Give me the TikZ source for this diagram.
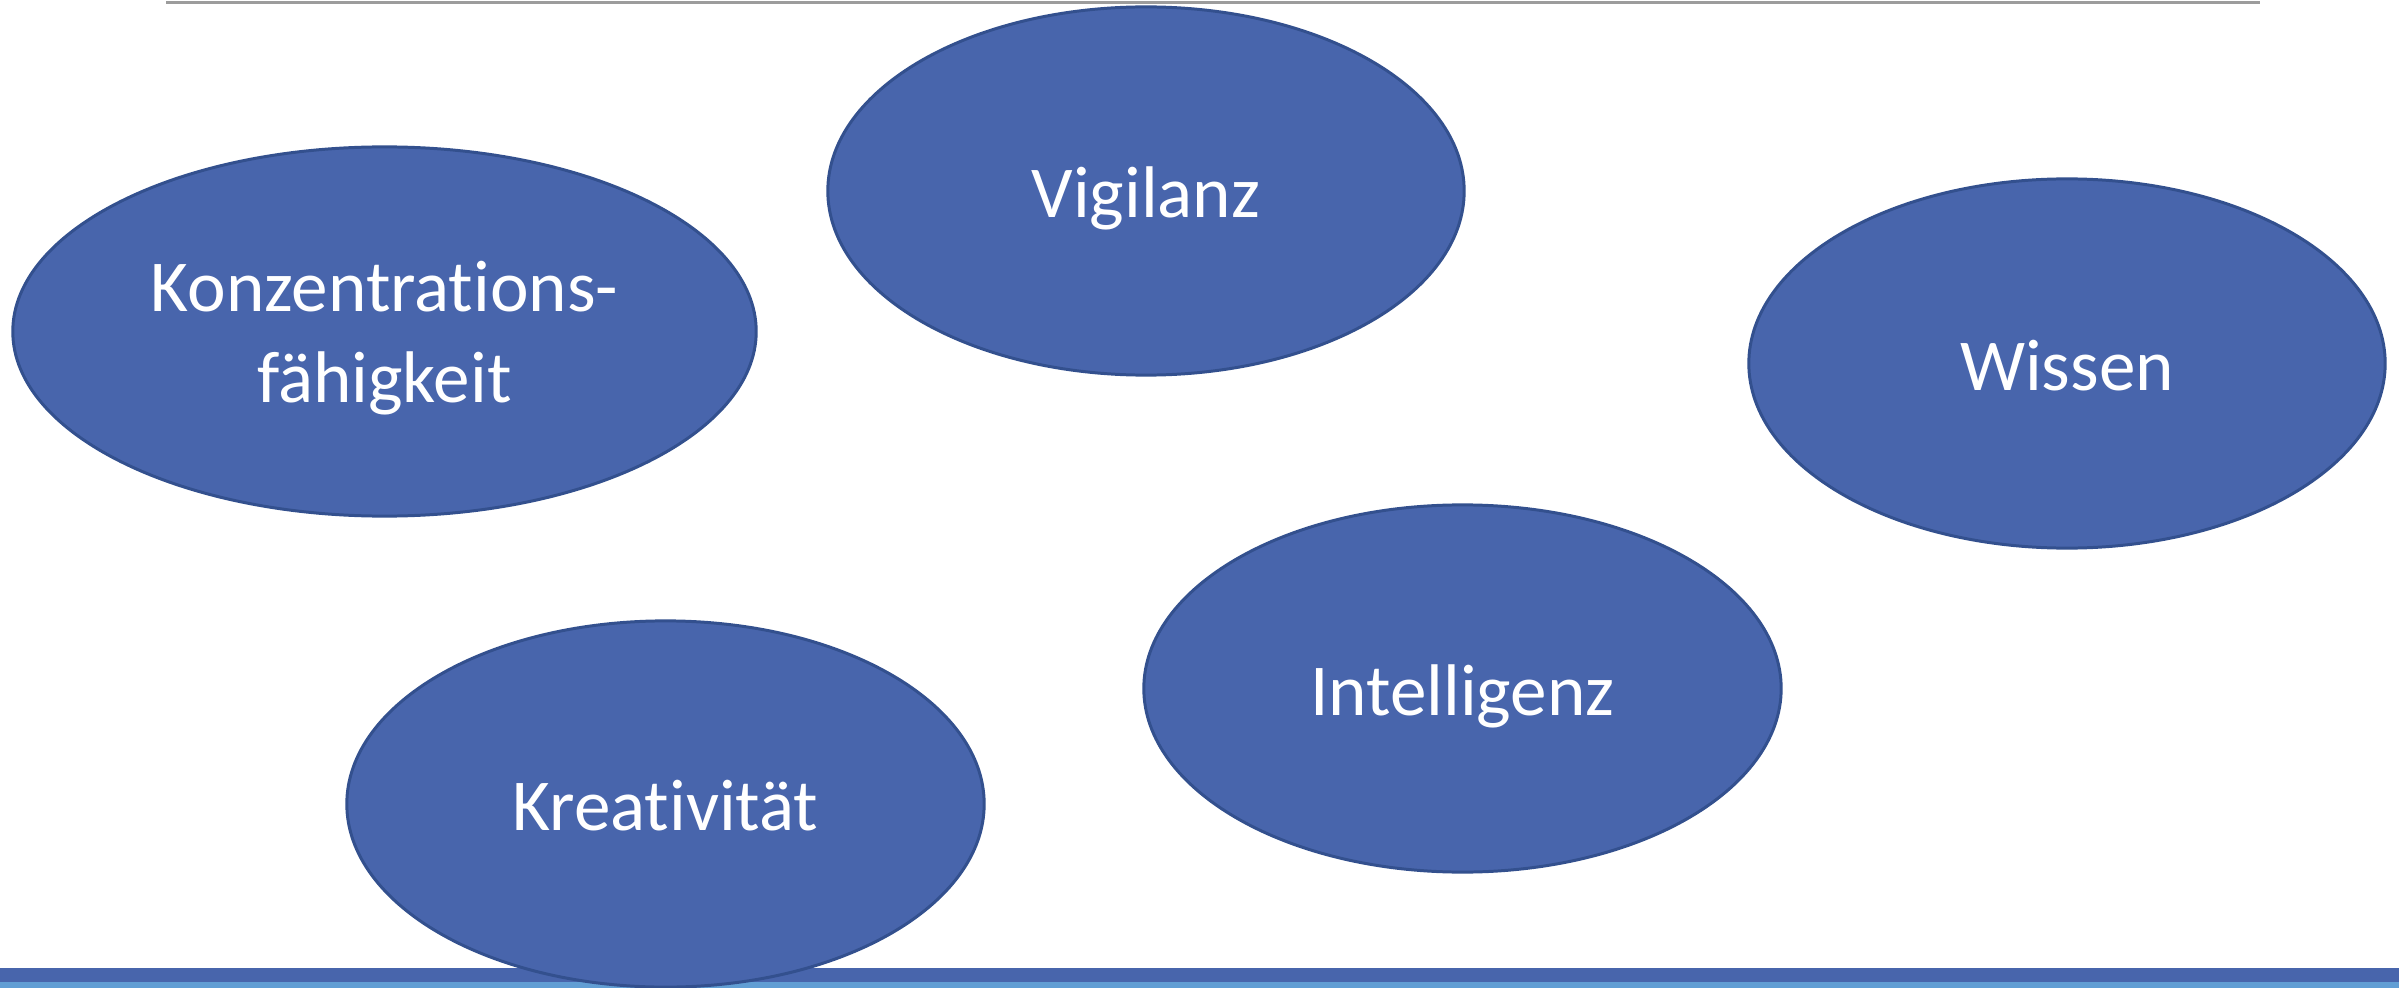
\documentclass[tikz,border=0pt]{standalone}
\usepackage{fontspec}
\setmainfont{Carlito}[Ligatures=NoCommon]
\usetikzlibrary{shapes.geometric}

\definecolor{blobfill}{HTML}{4865AC}
\definecolor{blobline}{HTML}{33508E}
\definecolor{barlight}{HTML}{619ED4}
\definecolor{rulegray}{HTML}{9C9C9C}

\begin{document}
\begin{tikzpicture}[x=0.01cm, y=-0.01cm]
  \tikzstyle{blob}=[ellipse, draw=blobline, fill=blobfill, line width=0.85pt,
    text=white, align=center, inner sep=0pt, text height=15.1pt, text depth=0pt,
    font=\fontsize{20.8}{25.6}\selectfont]

  \useasboundingbox (0,0) rectangle (2399,988);

  \draw[rulegray, line width=0.6pt] (166,2.5) -- (2260,2.5); % Top rule
  \fill[blobfill] (0,968) rectangle (2399,982); % Bottom bar
  \fill[barlight] (0,982) rectangle (2399,988); % Bottom thin bar

  \node[blob, text height=40.1pt, minimum width=7.43cm, minimum height=3.69cm] (A)
    at (384.5,331.5) {Konzentrations-\\fähigkeit}; % Left ellipse
  \node[blob, minimum width=6.36cm, minimum height=3.68cm] (B) at (1146,191)
    {Vigilanz}; % Top ellipse
  \node[blob, minimum width=6.36cm, minimum height=3.69cm] (C) at (2067,363.5)
    {Wissen}; % Right ellipse
  \node[blob, minimum width=6.37cm, minimum height=3.67cm] (D) at (1462.5,688.5)
    {Intelligenz}; % Middle ellipse
  \node[blob, minimum width=6.37cm, minimum height=3.66cm] (E) at (665.5,804)
    {Kreativität}; % Bottom ellipse
\end{tikzpicture}
\end{document}
